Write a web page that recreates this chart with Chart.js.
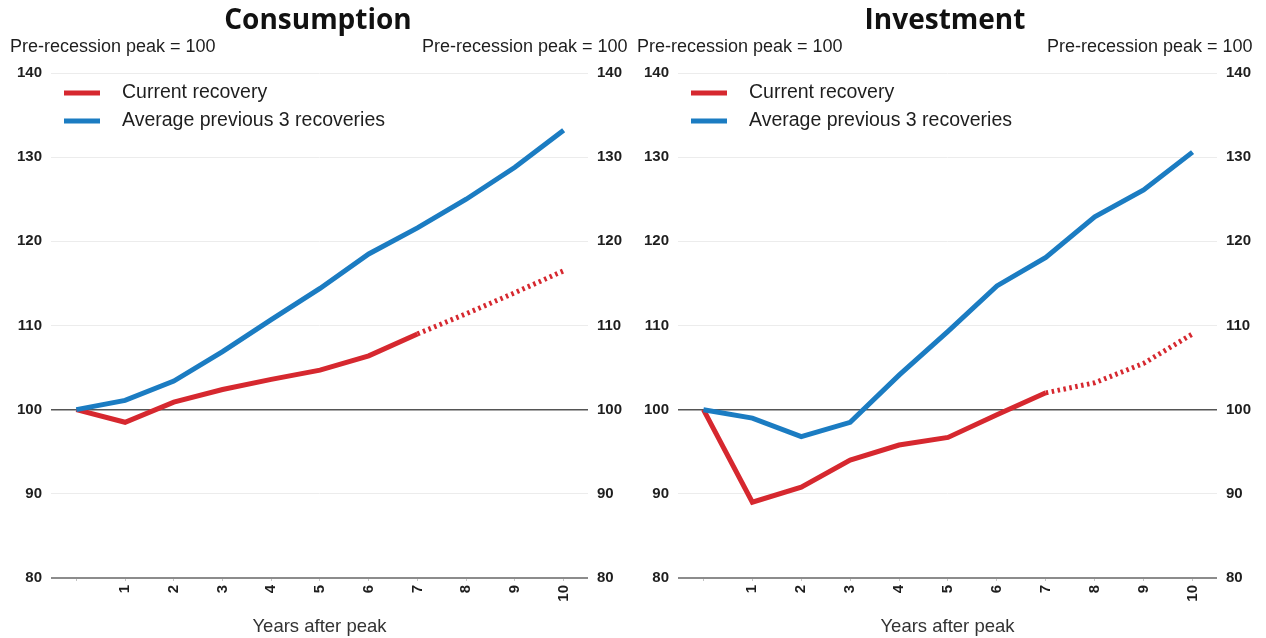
<!DOCTYPE html>
<html>
<head>
<meta charset="utf-8">
<script src="https://cdn.jsdelivr.net/npm/chart.js@4.4.1/dist/chart.umd.min.js"></script>
<style>
  html, body { margin: 0; padding: 0; background: #fff; }
  #wrap { position: relative; width: 1266px; height: 638px; overflow: hidden; }
  canvas { position: absolute; top: 0; }
  #c1 { left: 0; }
  #c2 { left: 633px; }
</style>
</head>
<body>
<div id="wrap">
  <canvas id="c1" width="633" height="638"></canvas>
  <canvas id="c2" width="633" height="638"></canvas>
</div>
<script>
// Years after the pre-recession peak
const years = [0, 1, 2, 3, 4, 5, 6, 7, 8, 9, 10];
const yTicks = [80, 90, 100, 110, 120, 130, 140];

// Consumption, pre-recession peak = 100
const consumptionCurrent = [100, 98.5, 100.9, 102.4, 103.6, 104.7, 106.4, 109.0, 111.4, 113.9, 116.5];
const consumptionAverage = [100, 101.1, 103.4, 106.9, 110.7, 114.4, 118.5, 121.6, 125.0, 128.8, 133.2];

// Investment, pre-recession peak = 100
const investmentCurrent = [100, 89.0, 90.8, 94.0, 95.8, 96.7, 99.4, 102.0, 103.2, 105.5, 109.0];
const investmentAverage = [100, 99.0, 96.8, 98.5, 104.1, 109.3, 114.7, 118.1, 122.9, 126.1, 130.6];

// last actual observation, after that the current recovery is a projection
const lastActual = 7;

const seriesNames = ["Current recovery", "Average previous 3 recoveries"];
const unitLabel = "Pre-recession peak = 100";

const RED = "#d6282f";
const BLUE = "#1b7cc2";
const TEXT = "#1e1e1e";
const SANS = "'Liberation Sans', Arial, sans-serif";

const decorPlugin = {
    id: "decor",
    afterDraw(chart, args, opts) {
        const { ctx, chartArea } = chart;
        ctx.save();

        // panel title
        ctx.fillStyle = "#111";
        ctx.font = "bold 28px 'Open Sans', Lato, sans-serif";
        ctx.textAlign = "center";
        ctx.textBaseline = "alphabetic";
        ctx.fillText(opts.title, opts.titleX, 29);

        // unit labels over both y axes
        ctx.fillStyle = TEXT;
        ctx.font = "18px " + SANS;
        ctx.textAlign = "left";
        ctx.fillText(unitLabel, opts.unitLeftX, 52);
        ctx.fillText(unitLabel, opts.unitRightX, 52);

        // legend, top left inside the plot
        const colors = [RED, BLUE];
        ctx.font = "19.5px " + SANS;
        ctx.textBaseline = "middle";
        seriesNames.forEach((name, i) => {
            const y = chartArea.top + 20 + i * 28;
            ctx.strokeStyle = colors[i];
            ctx.lineWidth = 5;
            ctx.beginPath();
            ctx.moveTo(chartArea.left + 13, y);
            ctx.lineTo(chartArea.left + 49, y);
            ctx.stroke();
            ctx.fillStyle = TEXT;
            ctx.fillText(name, chartArea.left + 71, y);
        });

        ctx.restore();
    }
};

function createPanel({ canvas, title, current, average, leftWidth, rightWidth, titleX, unitLeftX, unitRightX }) {

    return new Chart(canvas, {

        type: "line",

        data: {

            labels: years,

            datasets: [

                {
                    label: seriesNames[1],
                    data: years.map((x, i) => ({ x, y: average[i] })),
                    borderColor: BLUE,
                    borderWidth: 5,
                    pointRadius: 0,
                    tension: 0
                },

                {
                    label: seriesNames[0],
                    data: years.map((x, i) => ({ x, y: current[i] })),
                    borderColor: RED,
                    borderWidth: 5,
                    borderCapStyle: "butt",
                    pointRadius: 0,
                    tension: 0,
                    segment: {
                        borderDash: ctx => ctx.p0DataIndex >= lastActual ? [2.5, 3.5] : undefined
                    }
                }

            ]

        },

        options: {

            responsive: false,

            animation: false,

            devicePixelRatio: 1,

            layout: {
                padding: { top: 73, left: 0, right: 0, bottom: 0 }
            },

            plugins: {

                legend: { display: false },

                tooltip: { enabled: false },

                decor: { title, titleX, unitLeftX, unitRightX }

            },

            scales: {

                x: {
                    type: "linear",
                    min: -0.52,
                    max: 10.5,
                    afterBuildTicks: scale => {
                        scale.ticks = years.map(v => ({ value: v }));
                    },
                    afterFit: scale => {
                        scale.height = 60;
                    },
                    grid: {
                        drawOnChartArea: false,
                        drawTicks: true,
                        tickLength: 3,
                        color: "#c4c4c4"
                    },
                    border: { display: false },
                    ticks: {
                        minRotation: 90,
                        maxRotation: 90,
                        padding: 4,
                        color: TEXT,
                        font: { family: SANS, size: 15, weight: "bold" },
                        callback: v => (v === 0 ? "" : v)
                    },
                    title: {
                        display: true,
                        text: "Years after peak",
                        color: "#333",
                        padding: { top: 0, bottom: 0 },
                        font: { family: SANS, size: 18.5 }
                    }
                },

                y: {
                    position: "left",
                    min: 80,
                    max: 140,
                    afterBuildTicks: scale => {
                        scale.ticks = yTicks.map(v => ({ value: v }));
                    },
                    afterFit: scale => {
                        scale.width = leftWidth;
                    },
                    grid: {
                        drawTicks: false,
                        color: c => c.tick.value === 100 ? "#555" : c.tick.value === 80 ? "#8c8c8c" : "#ececec",
                        lineWidth: c => c.tick.value === 80 ? 2 : c.tick.value === 100 ? 1.5 : 1
                    },
                    border: { display: false },
                    ticks: {
                        padding: 9,
                        color: TEXT,
                        font: { family: SANS, size: 15, weight: "bold" }
                    }
                },

                y2: {
                    position: "right",
                    min: 80,
                    max: 140,
                    afterBuildTicks: scale => {
                        scale.ticks = yTicks.map(v => ({ value: v }));
                    },
                    afterFit: scale => {
                        scale.width = rightWidth;
                    },
                    grid: { display: false, drawTicks: false },
                    border: { display: false },
                    ticks: {
                        padding: 9,
                        color: TEXT,
                        font: { family: SANS, size: 15, weight: "bold" }
                    }
                }

            }

        },

        plugins: [decorPlugin]

    });

}

createPanel({
    canvas: document.getElementById("c1"),
    title: "Consumption",
    current: consumptionCurrent,
    average: consumptionAverage,
    leftWidth: 51,
    rightWidth: 45,
    titleX: 318,
    unitLeftX: 10,
    unitRightX: 422
});

createPanel({
    canvas: document.getElementById("c2"),
    title: "Investment",
    current: investmentCurrent,
    average: investmentAverage,
    leftWidth: 45,
    rightWidth: 49,
    titleX: 312,
    unitLeftX: 4,
    unitRightX: 414
});
</script>
</body>
</html>
